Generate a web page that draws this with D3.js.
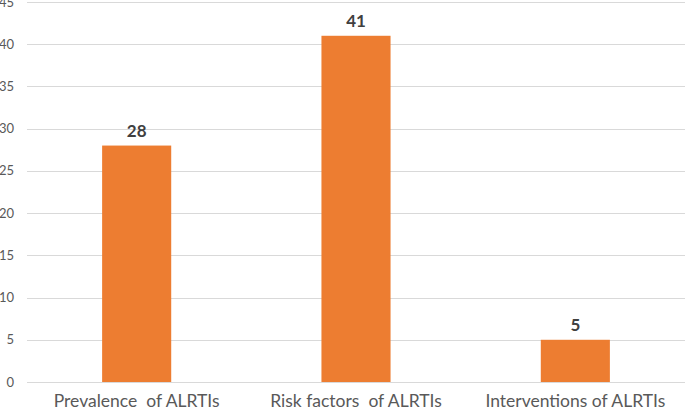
<!DOCTYPE html>
<html>
<head>
<meta charset="utf-8">
<script src="https://cdn.jsdelivr.net/npm/d3@7/dist/d3.min.js"></script>
<style>
  body { margin: 0; background: #fff; }
  text { font-family: Lato, "Open Sans", sans-serif; }
</style>
</head>
<body>
<svg id="chart" width="685" height="412"></svg>
<script>
var categories = ["Prevalence  of ALRTIs", "Risk factors  of ALRTIs", "Interventions of ALRTIs"];
var values = [28, 41, 5];
var yTicks = [0, 5, 10, 15, 20, 25, 30, 35, 40, 45];

var svg = d3.select("#chart");
var plotLeft = 27, plotRight = 685, plotTop = 2, plotBottom = 382;

var x = d3.scaleBand().domain(categories).range([plotLeft, plotRight]).paddingInner(0.685).paddingOuter(0.3425);
var y = d3.scaleLinear().domain([0, 45]).range([plotBottom, plotTop]);

// gridlines
svg.selectAll(".grid").data(yTicks).enter().append("line")
    .attr("x1", plotLeft).attr("x2", plotRight)
    .attr("y1", function(d){ return Math.round(y(d)) + 0.5; })
    .attr("y2", function(d){ return Math.round(y(d)) + 0.5; })
    .style("stroke", "#d9d9d9").style("stroke-width", 1);

// y tick labels
svg.selectAll(".ylab").data(yTicks).enter().append("text")
    .attr("x", 14).attr("y", function(d){ return y(d) + 4.5; })
    .attr("text-anchor", "end")
    .style("font-size", "13px").style("fill", "#595959")
    .text(function(d){ return d; });

// bars
svg.selectAll(".bar").data(values).enter().append("rect")
    .attr("x", function(d, i){ return x(categories[i]); })
    .attr("width", x.bandwidth())
    .attr("y", function(d){ return y(d); })
    .attr("height", function(d){ return y(0) - y(d); })
    .style("fill", "#ed7d31");

// value labels
svg.selectAll(".vlab").data(values).enter().append("text")
    .attr("x", function(d, i){ return x(categories[i]) + x.bandwidth() / 2; })
    .attr("y", function(d){ return y(d) - 9; })
    .attr("text-anchor", "middle")
    .style("font-size", "17px").style("font-weight", "bold").style("fill", "#404040")
    .text(function(d){ return d; });

// category labels
svg.selectAll(".xlab").data(categories).enter().append("text")
    .attr("x", function(d){ return x(d) + x.bandwidth() / 2; })
    .attr("y", 407)
    .attr("text-anchor", "middle")
    .style("font-size", "17.5px").style("fill", "#595959")
    .style("white-space", "pre")
    .text(function(d){ return d; });
</script>
</body>
</html>
